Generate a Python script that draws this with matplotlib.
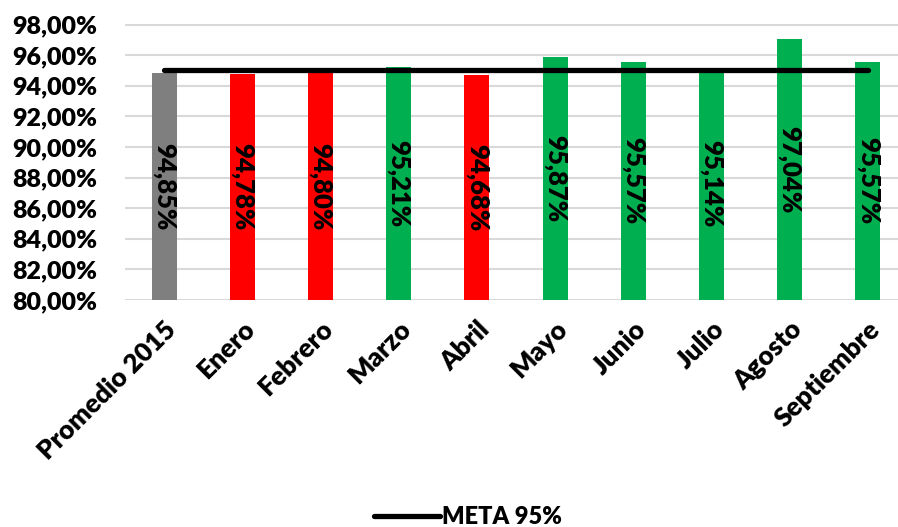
import matplotlib.pyplot as plt
from matplotlib.ticker import FuncFormatter

# monthly compliance, 2015 average first
meses = ['Promedio 2015', 'Enero', 'Febrero', 'Marzo', 'Abril', 'Mayo',
         'Junio', 'Julio', 'Agosto', 'Septiembre']
valores = [94.85, 94.78, 94.80, 95.21, 94.68, 95.87, 95.57, 95.14, 97.04, 95.57]
meta = [95.0] * len(meses)
colores = ['#7f7f7f', '#ff0000', '#ff0000', '#00b050', '#ff0000', '#00b050',
           '#00b050', '#00b050', '#00b050', '#00b050']

plt.rcParams['font.family'] = ['Lato', 'DejaVu Sans']

fig = plt.figure(figsize=(8.98, 5.27), dpi=100)
ax = fig.add_axes([125 / 898, 227 / 527, 782 / 898, 275.5 / 527])

x = list(range(len(meses)))
ax.bar(x, [v - 80 for v in valores], bottom=80, width=0.32, color=colores, zorder=2)
ax.plot(x, meta, color='black', linewidth=3.8, solid_capstyle='round',
        label='META 95%', zorder=3)

for xi, v in zip(x, valores):
    ax.text(xi, (80 + v) / 2, f'{v:.2f}%'.replace('.', ','), rotation=270,
            ha='center', va='center', fontsize=18.5, fontweight='heavy', zorder=4)

ax.set_xlim(-0.5, 9.5)
ax.set_ylim(80, 98)
ax.set_yticks(range(80, 99, 2))
ax.yaxis.set_major_formatter(FuncFormatter(lambda y, _: f'{y:.2f}%'.replace('.', ',')))
ax.set_xticks(x)
ax.set_xticklabels(meses, rotation=45, ha='right', va='top', rotation_mode='anchor')

ax.grid(axis='y', color='#d9d9d9', linewidth=1.5, zorder=0)
ax.set_axisbelow(True)
for s in ax.spines.values():
    s.set_visible(False)
ax.tick_params(length=0)
ax.tick_params(axis='y', pad=20, labelsize=18)
ax.tick_params(axis='x', pad=12, labelsize=19)
for lbl in ax.get_xticklabels() + ax.get_yticklabels():
    lbl.set_fontweight('heavy')

fig.legend(loc='center', bbox_to_anchor=(468 / 898, 1 - 517 / 527), frameon=False,
           prop={'size': 17, 'weight': 'heavy'}, handlelength=2.8, handletextpad=0.1)

fig.savefig('out.png', dpi=100)
